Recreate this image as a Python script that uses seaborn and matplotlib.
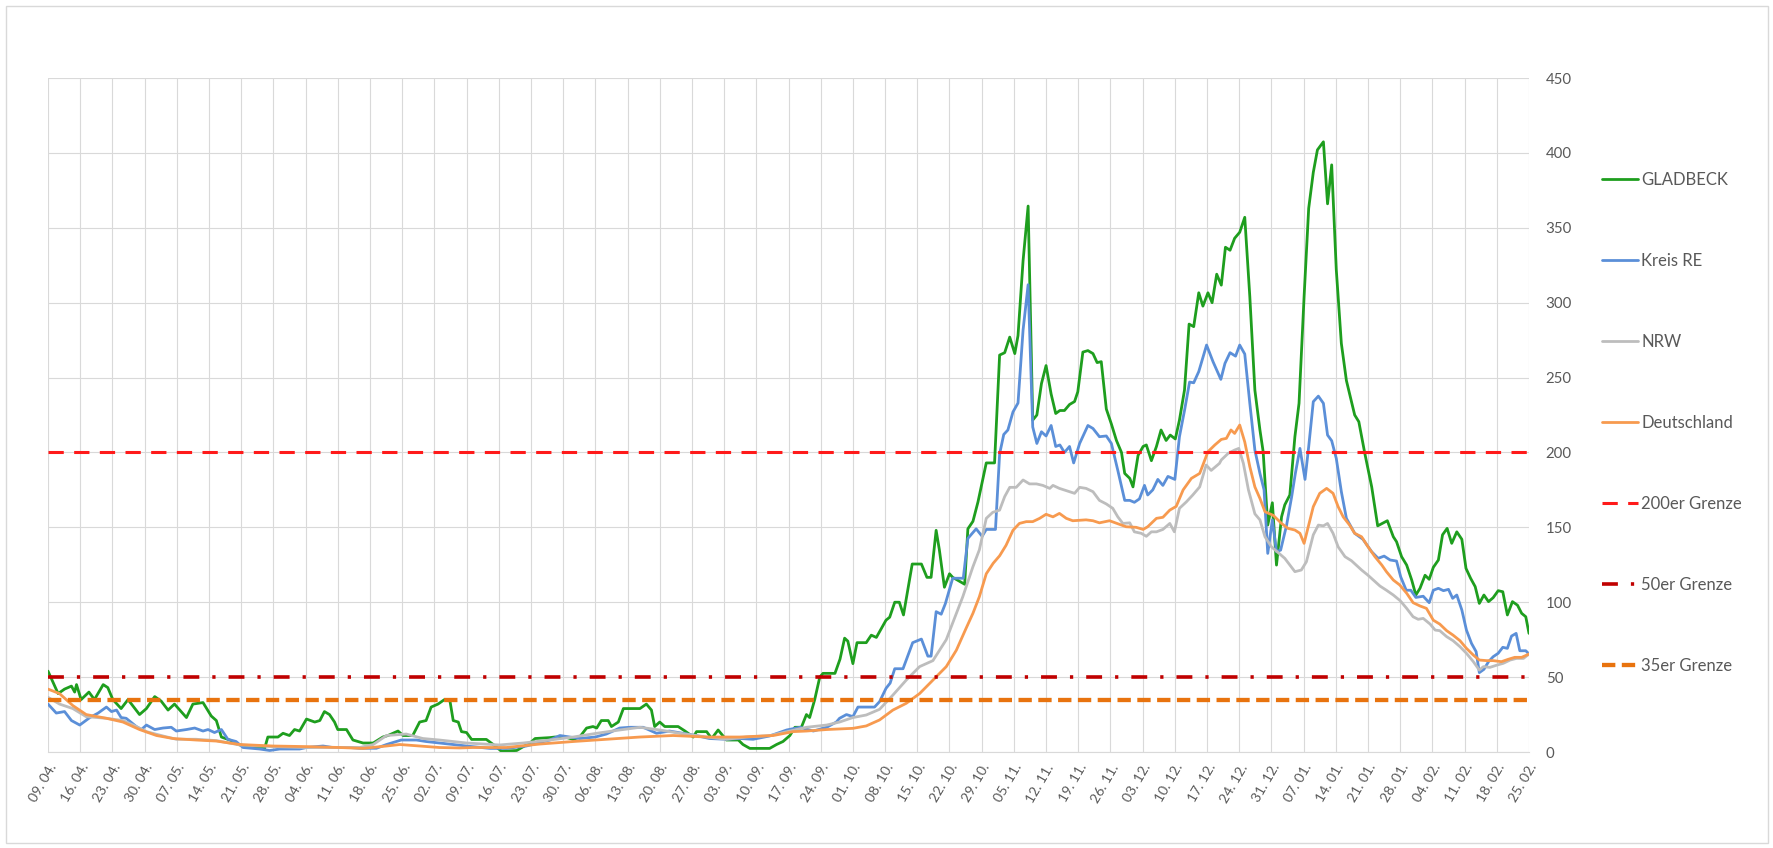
import matplotlib
matplotlib.use("Agg")
import matplotlib.pyplot as plt
import matplotlib.dates as mdates
from matplotlib.patches import Rectangle
import pandas as pd
import seaborn as sns

# ---------------- data (day offset from 09.04.2020, 7-day incidence) ----------------
start_date = "2020-04-09"
end_date = "2021-02-25"

gladbeck = [(0,54),(2.2,39),(3.6,42),(5.1,44),(5.8,40),(6.2,45),(7.2,35),(8.9,40),(10.1,35),(12.0,45),(13.0,43),(14.1,35),(15.9,29),(17.4,35),(19.9,25),(21.4,29),(23.2,37),(24.6,34),(26.1,28),(27.5,32),(30.1,23),(31.5,32),(33.7,33),(35.5,24),(36.6,21),(37.7,10),(39.5,8),(41.3,5),(43.1,4),(46.0,3),(47.1,2.4),(47.8,10),(50.0,10),(51.1,12.5),(52.5,11),(53.6,15),(54.7,14),(56.2,22),(58.0,20),(59.1,21),(60.1,27),(61.2,25),(62.3,20),(63.0,15),(64.9,15),(66.3,8),(68.5,6),(70.7,6),(72.8,10),(73.9,11),(76.1,14),(77.2,11),(79.3,11),(80.8,20),(82.2,21),(83.3,30),(84.8,32),(86.2,35),(87.4,34),(88.1,21),(89.2,20),(89.9,13.6),(91,13),(92.1,8.4),(95.3,8.4),(96.8,5),(98.6,0.5),(101.9,1),(103.3,3.5),(104.8,6),(105.9,9),(109.1,9.6),(110.2,10),(112.4,10),(114.2,8.4),(115.6,10),(117.1,16),(118.5,17),(119.3,16),(120.3,21),(121.8,21),(122.5,17),(124.0,20),(125.1,29),(128.7,29),(130.1,32),(131.2,28),(131.9,17),(133.0,20),(134.1,17),(137.0,17),(138.5,14),(140.3,10),(141.0,13.6),(143.2,13.6),(144.3,9),(145.7,14.7),(147.5,8),(150.1,8),(151.1,5),(152.6,2.4),(156.9,2.4),(158.4,5),(159.8,7),(161.3,11),(162.4,16.5),(163.8,16.5),(164.9,25),(165.6,23),(166.7,35),(167.8,50),(168.5,52.5),(171.1,52.5),(172.2,62),(173.2,76),(173.9,74),(175,59),(175.9,73),(177.9,73),(179,78),(180.1,76.5),(182.2,88),(183,90),(184.1,100),(185.1,100),(186,91.5),(187.9,125.5),(189.9,125.5),(191.1,116.6),(192,116.6),(193.1,148),(193.8,135),(194.9,110),(196,119),(196.7,116.6),(199.3,112),(200,149),(201.1,154),(202.2,167),(203.3,183),(204,193),(205.8,193),(206.9,265),(208,266.6),(209.1,277),(210.2,266),(210.9,278),(212,328),(213.1,364.5),(214.1,221.6),(215,225),(216,246),(217,258),(218.1,239),(219.1,226),(220,228),(221,228),(222.1,232),(223.2,234),(223.9,240.5),(225,267),(226.1,268),(227.2,266),(228.1,260),(229,260.6),(230.1,229),(231.2,219),(232.3,208),(233.4,200),(234.1,186),(235.2,182.7),(235.9,177),(237,198),(238.1,204),(238.8,205),(239.9,194.5),(241,204),(242,215),(243.1,208),(244,211.6),(245.1,209),(246,221.6),(247.1,241.7),(248.1,285.7),(249.1,284),(250.2,306.6),(251.1,297.7),(252.2,306.6),(253.1,300),(254.1,319),(255.1,311.7),(256,337),(257,335),(258,343),(259.1,347),(260.2,357),(261.3,304),(262.4,241.6),(263.5,215),(264.2,200.5),(265.2,151.5),(266.2,166.4),(267.1,124.8),(268.2,157),(268.9,165),(270,171.6),(271.1,210.5),(272,232.8),(273.1,304),(274.1,363),(275.1,387),(276,402),(277.3,407.4),(278.2,366),(279.1,392),(280.1,322),(281.2,272.8),(282.3,248),(284.1,225),(285,220.5),(286.3,199.4),(287.8,177),(289.1,151),(291.2,154.4),(292.5,143.7),(293.2,140.4),(294.3,130.4),(295.4,124.8),(296.5,114.8),(297.4,104.8),(298.3,109.3),(299.4,118),(300.3,115.3),(301.2,123.3),(302.3,128.2),(303.2,145),(304.2,149.3),(305.2,139.3),(306.3,147),(307.4,142),(308.3,122.6),(309.3,116),(310.3,110.4),(311.2,99.2),(312.2,104.8),(313.2,100.4),(314.2,103),(315.3,107.7),(316.3,107),(317.3,91.5),(318.4,100.4),(319.5,98),(320.4,92.6),(321.3,90.3),(322,79.2)]

kreis_re = [(0,32),(1.8,26),(3.6,27),(5.1,21),(6.9,18),(9.1,23),(10.9,26),(12.7,30),(13.8,27),(14.9,28),(15.9,23),(17.0,22.5),(19.2,17),(20.3,15),(21.4,18),(23.2,15),(25.0,16),(26.8,16.5),(27.9,14),(30.1,15),(31.9,16),(33.7,14),(34.8,15),(36.2,13),(37.7,15),(39.1,8.5),(40.9,7),(42.4,3),(46.0,2),(48.2,1),(50.4,2),(54.7,2),(56.2,3),(59.8,4),(61.9,3),(65.6,3),(67.8,2.5),(71.4,2.5),(73.6,5),(76.8,8),(80.1,8),(82.2,7),(85.1,6),(91,4),(96.1,2.4),(99.7,2.4),(104.0,4),(109.1,8),(111.3,11),(115.6,9),(119.0,10),(121.4,12),(124.3,16),(126.5,16.5),(129.4,16.5),(132.3,12.5),(135.1,14),(138.0,12.5),(140.9,11),(143.8,9),(147.4,8.5),(150.4,9),(153.3,8.5),(156.9,10.7),(160.6,14.7),(163.5,16.5),(166.4,14),(169.3,16.5),(171.4,20),(172.1,22.5),(173.6,25),(175,23.6),(176.1,30),(179.7,30),(180.8,33.6),(182.2,42.5),(183.1,46),(184.1,55.6),(185.9,55.6),(188.0,73),(189.9,75.4),(191.3,64),(192.0,64),(193.1,93.7),(194.2,92),(195.1,99),(196.7,116),(199.0,116),(200.0,142.6),(201.8,149),(203.1,144),(204.0,148.6),(206.0,148.6),(206.9,199),(207.8,212),(208.7,215),(209.8,227),(210.9,233),(212.0,281.7),(213.1,312),(214.1,217),(215.0,206),(216.0,213.8),(217.0,211),(218.1,218),(219.1,204),(220.0,205),(221.0,200),(222.1,204),(223.0,193),(224.3,206),(226.1,218),(227.2,216),(228.6,210.5),(230.1,211),(231.2,206),(232.6,188),(234.1,168),(235.2,168),(236.2,166.7),(237.3,169),(238.4,178),(239.1,171.6),(240.2,175),(241.3,182),(242.4,178),(243.5,184),(245.0,182),(246.0,210.5),(247.1,228),(248.2,247),(249.1,246.5),(250.2,254),(251.9,271.7),(253.3,260.6),(255.0,248.8),(255.9,259.5),(257.0,266.6),(258.2,264.3),(259.1,271.7),(260.2,265.7),(261.3,232.8),(262.4,201.6),(263.5,186),(264.4,175),(265.2,132.6),(266.2,155),(267.1,133.7),(268.0,134.8),(269.3,151.5),(270.4,170.5),(271.2,186),(272.2,202.7),(273.3,182),(274.1,203.8),(275.1,233.9),(276.2,237.6),(277.3,232.8),(278.2,211.6),(279.1,207.8),(280.1,196),(281.2,173.8),(282.3,156),(284.1,146),(285.9,142),(287.8,133.7),(289.2,129.3),(290.5,130.8),(291.8,128.2),(293.2,127.5),(294.1,117),(295.3,108),(296.3,108),(297.4,103.2),(299.0,104),(300.3,99.7),(301.2,108),(302.3,109.3),(303.4,107.7),(304.5,108.6),(305.4,102.6),(306.3,104.8),(307.4,94.8),(308.4,81.4),(309.5,72.5),(310.5,67),(311.2,53),(312.2,55.2),(313.2,60.3),(314.2,63.6),(315.3,65.9),(316.3,69.9),(317.3,69.2),(318.2,77.4),(319.2,79.2),(320.0,67.6),(321.3,67.6),(322,65.4)]

nrw = [(0,36.5),(2.5,32),(5.4,29),(8.3,23.6),(12.7,22.5),(16.3,21),(19.2,17),(21.4,13.6),(25.0,10.7),(27.9,8.5),(32.2,8.5),(36.6,7.6),(41.7,4.7),(48.9,3.6),(56.2,3),(63.4,3),(67.8,3),(70.7,5),(73.6,11),(77.9,12),(81.5,9),(85.1,8),(91,6),(98.2,4.7),(103.3,6),(109.1,8),(114.2,10),(119.3,12.5),(124.3,14.7),(128.7,16.5),(133.0,14.7),(137.4,12.5),(143.2,10),(147.5,8.5),(151.9,10),(157.0,11),(161.3,14),(164.9,16.5),(169.3,18),(172.1,20),(175,23),(177.9,24.7),(180.8,28.5),(183.7,38),(186.6,48),(189.5,57),(192.4,61),(195.3,75),(197.5,92.6),(198.9,103.7),(201.1,123.7),(202.5,135),(204.0,156),(205.4,160),(206.9,161.5),(208.0,170.5),(209.1,176.7),(210.5,176.7),(212.0,181.6),(213.4,179),(214.9,179),(216.3,178),(217.8,176),(218.5,178),(219.9,176),(221.4,174.5),(223.2,172.7),(224.3,176.7),(225.7,176),(227.2,173.8),(228.6,168),(230.1,165.6),(231.5,162.7),(232.6,157),(233.7,152.6),(235.2,153),(236.2,147),(237.7,146),(238.8,144),(239.9,147),(241.0,147),(242.4,148.6),(243.9,152.6),(244.9,147),(246.0,162.7),(247.5,167),(248.9,171.6),(250.4,177),(251.8,191.6),(252.9,188),(254.7,192.7),(255.1,195),(256.6,199.4),(258.0,201.6),(258.9,202.7),(259.9,192.7),(261.0,175),(262.4,159),(263.5,155),(264.6,143.7),(266.0,137),(267.5,133),(268.9,129.3),(271.1,120.4),(272.5,121.5),(273.6,127),(275.1,145),(276.2,151.5),(277.3,151),(278.2,152.6),(279.4,146),(280.5,137),(282.0,130.4),(283.4,127.7),(285.6,121.5),(287.0,118),(289.6,110.8),(291.0,108),(292.5,104.8),(294.0,101),(295.4,95.9),(296.8,90.3),(297.9,88.6),(299.0,89.2),(300.5,85.4),(301.6,81.4),(302.6,81),(304.1,77),(305.5,74.3),(307.0,70.3),(308.4,65.9),(309.9,60.3),(311.2,54.7),(312.1,57),(313.5,56.5),(315.0,58),(316.4,59.2),(317.9,61.4),(319.3,62.5),(320.8,62.5),(322,65.4)]

deutschland = [(0,42),(2.5,39),(5.4,31),(8.3,25),(12.7,22.5),(16.3,20),(19.9,15),(23.6,11),(27.2,9),(32.2,8),(36.6,7.3),(41.7,5),(48.9,4),(56.2,3.6),(63.4,3),(68.5,2.4),(73.6,4),(76.5,5),(80.8,4),(85.1,3),(89.5,2.7),(92.4,3),(99.7,3),(106.9,5.3),(114.2,7),(121.4,8.5),(128.7,10),(135.9,11),(143.2,10),(150.4,10),(157.7,11),(162.0,13.6),(164.9,14),(169.3,15),(175,15.8),(177.9,17.4),(180.8,21.4),(183.7,28),(186.6,32.5),(189.5,39),(192.4,48),(195.3,57),(197.5,68),(199.6,82.5),(201.1,92.6),(202.5,103.7),(204.0,119),(205.5,126),(206.9,131),(208.3,138),(209.8,148),(211.2,152.6),(212.7,153.8),(214.1,153.8),(215.6,156),(217.0,158.7),(218.5,157),(219.9,159.3),(221.4,156),(222.8,154.4),(225.7,155),(227.2,154.4),(228.6,153),(230.8,154.4),(233.0,152),(234.4,150.4),(236.6,150),(238.1,148.6),(239.1,150.4),(241.0,156),(242.4,156.7),(243.9,161.5),(245.3,164),(246.8,175),(248.6,182.7),(250.4,186),(252.2,200.5),(253.7,205),(255.1,208.7),(256.2,209.4),(257.2,215),(258.0,212.7),(259.1,218.3),(260.2,207),(261.3,190.5),(262.4,177),(263.5,169.3),(264.6,160.4),(266.4,158),(268.2,152.6),(269.6,149.3),(271.1,148.2),(272.2,146),(273.1,139.3),(274.0,150.4),(275.1,163.8),(276.5,172.7),(278.0,176),(279.4,172.7),(280.5,163.8),(281.6,157),(283.0,151.5),(284.1,146),(285.6,143.7),(287.0,137),(288.5,130.4),(290.0,124.8),(291.0,120.4),(292.5,114.8),(293.9,111.5),(295.4,106),(296.8,99.7),(298.3,97.5),(299.7,95.9),(301.2,88),(302.6,85.4),(304.1,81),(305.5,78),(307.0,74.3),(308.4,69.2),(309.9,64.7),(311.2,61.4),(312.8,61),(314.2,61),(316.0,60.3),(317.5,61.9),(318.9,63.2),(320.4,63.2),(322,65.4)]

series_names = ["GLADBECK", "Kreis RE", "NRW", "Deutschland"]
series_data = [gladbeck, kreis_re, nrw, deutschland]
series_colors = ["#1E9E1E", "#5B8FD8", "#BDBDBD", "#F79A4F"]

limit_names = ["200er Grenze", "50er Grenze", "35er Grenze"]
limit_values = [200, 50, 35]
limit_colors = ["#FF1A1A", "#C00000", "#E8730E"]
limit_widths = [2.2, 2.6, 3.1]
limit_styles = [(0, (5.0, 3.4)), (0, (4.4, 3.6, 0.9, 3.6)), (0, (3.1, 1.5))]

y_ticks = [0, 50, 100, 150, 200, 250, 300, 350, 400, 450]

# ---------------- plotting ----------------
sns.set_style("white")
plt.rcParams["font.family"] = ["Lato", "DejaVu Sans"]
text_color = "#595959"
grid_color = "#D9D9D9"

fig = plt.figure(figsize=(17.74, 8.48), dpi=100)
ax = fig.add_axes([48 / 1774, 1 - 752 / 848, (1529 - 48) / 1774, (752 - 78) / 848])

t0 = pd.Timestamp(start_date)
for name, data, col in zip(series_names, series_data, series_colors):
    df = pd.DataFrame(data, columns=["day", "value"])
    df["date"] = t0 + pd.to_timedelta(df["day"], unit="D")
    sns.lineplot(data=df, x="date", y="value", ax=ax, color=col, lw=2.0,
                 label=name, estimator=None, sort=True)

x_range = [t0, pd.Timestamp(end_date)]
for name, val, col, lw, ls in zip(limit_names, limit_values, limit_colors,
                                  limit_widths, limit_styles):
    dfl = pd.DataFrame({"date": x_range, "value": [val, val]})
    sns.lineplot(data=dfl, x="date", y="value", ax=ax, color=col, lw=lw,
                 linestyle=ls, label=name, estimator=None)

ax.set_xlim(x_range[0], x_range[1])
ax.set_ylim(0, 450)
ax.set_xlabel("")
ax.set_ylabel("")

week_ticks = pd.date_range(start_date, end_date, freq="7D")
ax.set_xticks(week_ticks)
ax.xaxis.set_major_formatter(mdates.DateFormatter("%d. %m."))
ax.set_yticks(y_ticks)
ax.yaxis.tick_right()

ax.grid(True, color=grid_color, lw=0.8)
ax.set_axisbelow(True)
for s in ["top", "left", "right"]:
    ax.spines[s].set_visible(False)
ax.spines["bottom"].set_color(grid_color)
ax.spines["bottom"].set_linewidth(0.8)

ax.tick_params(axis="x", length=4, width=0.8, color=grid_color, labelsize=10,
               labelcolor=text_color, pad=3)
ax.tick_params(axis="y", length=0, labelsize=10.8, labelcolor=text_color, pad=12,
               right=False, labelright=True, left=False, labelleft=False)
for lab in ax.get_xticklabels():
    lab.set_rotation(60)
    lab.set_ha("right")
    lab.set_rotation_mode("anchor")

handles, labels = ax.get_legend_handles_labels()
ax.legend(handles, labels, loc="center left",
          bbox_to_anchor=(1602 / 1774, 1 - 423 / 848),
          bbox_transform=fig.transFigure, frameon=False, fontsize=12,
          labelcolor=text_color, handlelength=2.15, handletextpad=0.2,
          labelspacing=3.9, borderpad=0, borderaxespad=0)

fig.patches.append(Rectangle((6 / 1774, 5 / 848), 1762 / 1774, 837 / 848,
                             transform=fig.transFigure, fill=False,
                             edgecolor=grid_color, lw=1.0))

fig.savefig("out.png", dpi=100, facecolor="white")
